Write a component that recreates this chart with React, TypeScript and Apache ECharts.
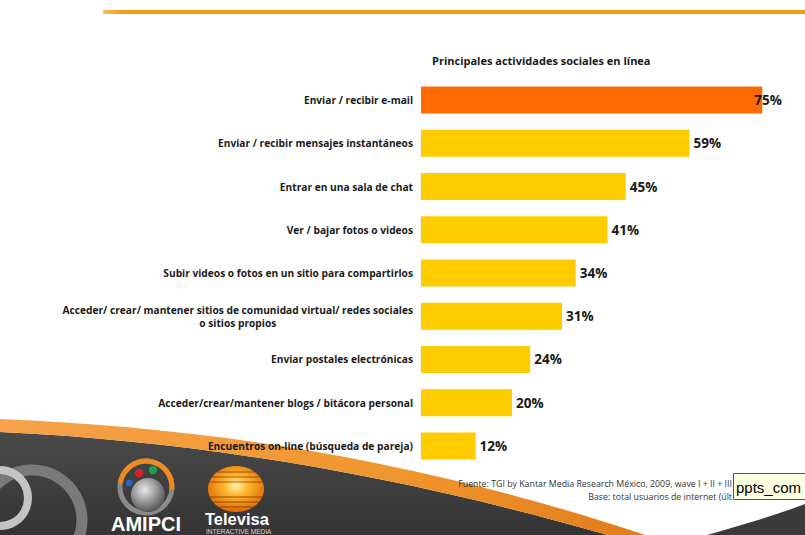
import React, { useEffect, useRef } from "react";
import * as echarts from "echarts";

const categories = [
  "Enviar / recibir e-mail",
  "Enviar / recibir mensajes instantáneos",
  "Entrar en una sala de chat",
  "Ver / bajar fotos o videos",
  "Subir videos o fotos en un sitio para compartirlos",
  "Acceder/ crear/ mantener sitios de comunidad virtual/ redes sociales\no sitios propios",
  "Enviar postales electrónicas",
  "Acceder/crear/mantener blogs / bitácora personal",
  "Encuentros on-line (búsqueda de pareja)",
];
const values = [75, 59, 45, 41, 34, 31, 24, 20, 12];
const titleText = "Principales actividades sociales en línea";
const sourceLines = [
  "Fuente: TGI by Kantar Media Research México, 2009, wave I + II + III",
  "Base: total usuarios de internet (últ",
];
const tooltipText = "ppts_com";

const FONT = "'Liberation Sans Narrow', 'Open Sans', 'Liberation Sans', sans-serif";

let shapesRegistered = false;
function registerShapes() {
  if (shapesRegistered) return;
  shapesRegistered = true;
  const g: any = echarts.graphic;
  g.registerShape(
    "swooshOrange",
    g.extendPath("M0,419 C220,428 430,462 660,540 L625,540 C420,480 215,442 0,432 Z", {})
  );
  g.registerShape(
    "swooshDark",
    g.extendPath("M0,432 C215,442 420,480 625,540 L0,540 Z", {})
  );
  g.registerShape(
    "cornerDark",
    g.extendPath("M690,540 C730,528 770,518 810,502 L810,540 Z", {})
  );
}

function televisaStripes(cx: number, cy: number, rx: number, ry: number) {
  const out: any[] = [];
  const offsets = [-17, -12, -7, 8, 13, 18];
  for (const dy of offsets) {
    const half = rx * Math.sqrt(Math.max(0, 1 - (dy / ry) * (dy / ry)));
    out.push({
      type: "line",
      z: 3,
      shape: { x1: cx - half, y1: cy + dy, x2: cx + half, y2: cy + dy },
      style: { stroke: "rgba(90,30,0,0.6)", lineWidth: 1 },
    });
  }
  return out;
}

export default function App() {
  const ref = useRef<HTMLDivElement>(null);
  useEffect(() => {
    document.body.style.margin = "0";
    registerShapes();
    const chart = echarts.init(ref.current!, undefined, { renderer: "svg" });
    const G: any = echarts.graphic;

    const data = values.map((v, i) =>
      i === 0 ? { value: v, label: { offset: [-12, 0] } } : { value: v }
    );

    const option: any = {
      animation: false,
      backgroundColor: "#ffffff",
      title: {
        text: titleText,
        left: 427,
        top: 50,
        textStyle: { fontSize: 11, fontWeight: "bold", color: "#1a1a1a", fontFamily: FONT },
      },
      grid: { left: 421, top: 78.5, width: 364, height: 389, containLabel: false },
      xAxis: { type: "value", min: 0, max: 80, show: false },
      yAxis: {
        type: "category",
        data: categories,
        inverse: true,
        axisLine: { show: false },
        axisTick: { show: false },
        splitLine: { show: false },
        axisLabel: {
          margin: 8,
          color: "#1a1a1a",
          fontSize: 10.2,
          fontWeight: "bold",
          fontFamily: FONT,
          lineHeight: 13,
          formatter: (val: string) => {
            const parts = val.split("\n");
            if (parts.length > 1) return `{a|${parts[0]}}\n{c|${parts[1]}}`;
            return `{a|${val}}`;
          },
          rich: {
            a: { fontSize: 10.2, fontWeight: "bold", fontFamily: FONT, color: "#1a1a1a", lineHeight: 13 },
            c: { fontSize: 10.2, fontWeight: "bold", fontFamily: FONT, color: "#1a1a1a", lineHeight: 13, align: "center" },
          },
        },
      },
      series: [
        {
          type: "bar",
          data,
          barWidth: 27,
          z: 5,
          itemStyle: {
            color: (p: any) => (p.dataIndex === 0 ? "#FF6A00" : "#FFCC00"),
          },
          label: {
            show: true,
            position: "right",
            distance: 4,
            formatter: "{c}%",
            fontSize: 13.5,
            fontWeight: "bold",
            color: "#1a1a1a",
            fontFamily: FONT,
          },
        },
      ],
      graphic: [
        {
          type: "rect",
          z: 0,
          shape: { x: 103, y: 10, width: 702, height: 4 },
          style: {
            fill: new G.LinearGradient(0, 0, 1, 0, [
              { offset: 0, color: "#F7C060" },
              { offset: 0.03, color: "#F29A1A" },
              { offset: 1, color: "#F29A1A" },
            ]),
          },
        },
        {
          type: "swooshDark",
          z: 0,
          x: 0,
          y: 0,
          style: {
            fill: new G.LinearGradient(0, 0, 0, 1, [
              { offset: 0, color: "#4a4a4a" },
              { offset: 1, color: "#333333" },
            ]),
          },
        },
        {
          type: "swooshOrange",
          z: 0,
          x: 0,
          y: 0,
          style: {
            fill: new G.LinearGradient(0, 0, 1, 0, [
              { offset: 0, color: "#F6A24A" },
              { offset: 0.6, color: "#F0962E" },
              { offset: 1, color: "#E07A18" },
            ]),
          },
        },
        {
          type: "cornerDark",
          z: 0,
          x: 0,
          y: 0,
          style: { fill: "#3a3a3a" },
        },
        {
          type: "circle",
          z: 1,
          shape: { cx: 32, cy: 520, r: 50 },
          style: { fill: "none", stroke: "#7a7a7a", lineWidth: 11 },
        },
        {
          type: "circle",
          z: 1,
          shape: { cx: 0, cy: 498, r: 28 },
          style: { fill: "none", stroke: "#c4c4c4", lineWidth: 8 },
        },
        {
          type: "circle",
          z: 2,
          shape: { cx: 146, cy: 487, r: 26 },
          style: { fill: "none", stroke: "#8a8a8a", lineWidth: 5 },
        },
        {
          type: "arc",
          z: 3,
          shape: { cx: 146, cy: 487, r: 26, startAngle: -Math.PI * 0.95, endAngle: 0.1, clockwise: true },
          style: { stroke: "#F08A1C", lineWidth: 5, fill: "none" },
        },
        {
          type: "circle",
          z: 2,
          shape: { cx: 148, cy: 495, r: 17 },
          style: {
            fill: new G.RadialGradient(0.4, 0.35, 0.7, [
              { offset: 0, color: "#e8e8e8" },
              { offset: 0.6, color: "#8a8a8a" },
              { offset: 1, color: "#4a4a4a" },
            ]),
          },
        },
        { type: "circle", z: 3, shape: { cx: 139, cy: 473, r: 4.2 }, style: { fill: "#D8202A" } },
        { type: "circle", z: 3, shape: { cx: 153, cy: 470, r: 4.2 }, style: { fill: "#1AA050" } },
        { type: "circle", z: 3, shape: { cx: 129, cy: 483, r: 3.5 }, style: { fill: "#2A62C8" } },
        {
          type: "text",
          z: 3,
          x: 111,
          y: 524,
          style: {
            text: "AMIPCI",
            fill: "#ffffff",
            font: "bold 20px 'Liberation Sans', Arial, sans-serif",
            textVerticalAlign: "middle",
          },
        },
        {
          type: "ellipse",
          z: 2,
          shape: { cx: 236, cy: 489, rx: 28, ry: 23 },
          style: {
            fill: new G.RadialGradient(0.5, 0.42, 0.65, [
              { offset: 0, color: "#FFF4A8" },
              { offset: 0.35, color: "#FFB42A" },
              { offset: 1, color: "#D65A00" },
            ]),
          },
        },
        ...televisaStripes(236, 489, 28, 23),
        {
          type: "text",
          z: 3,
          x: 205,
          y: 519,
          style: {
            text: "Televisa",
            fill: "#ffffff",
            font: "bold 16.5px 'Liberation Sans', Arial, sans-serif",
            textVerticalAlign: "middle",
          },
        },
        {
          type: "text",
          z: 3,
          x: 206,
          y: 531,
          style: {
            text: "INTERACTIVE MEDIA",
            fill: "#e0d6cc",
            font: "6.5px 'Liberation Sans', Arial, sans-serif",
            textVerticalAlign: "middle",
          },
        },
        {
          type: "text",
          z: 3,
          x: 732,
          y: 484,
          style: {
            text: sourceLines[0],
            fill: "#333333",
            font: "8.8px " + FONT,
            textAlign: "right",
            textVerticalAlign: "middle",
          },
        },
        {
          type: "text",
          z: 3,
          x: 732,
          y: 497,
          style: {
            text: sourceLines[1],
            fill: "#333333",
            font: "8.8px " + FONT,
            textAlign: "right",
            textVerticalAlign: "middle",
          },
        },
        {
          type: "rect",
          z: 4,
          shape: { x: 733.5, y: 473.5, width: 80, height: 26 },
          style: { fill: "#FFFFE1", stroke: "#555555", lineWidth: 1 },
        },
        {
          type: "text",
          z: 5,
          x: 736,
          y: 487,
          style: {
            text: tooltipText,
            fill: "#000000",
            font: "15px 'Liberation Sans', Arial, sans-serif",
            textVerticalAlign: "middle",
          },
        },
      ],
    };

    chart.setOption(option);
    return () => chart.dispose();
  }, []);

  return <div ref={ref} style={{ width: 805, height: 535 }} />;
}
